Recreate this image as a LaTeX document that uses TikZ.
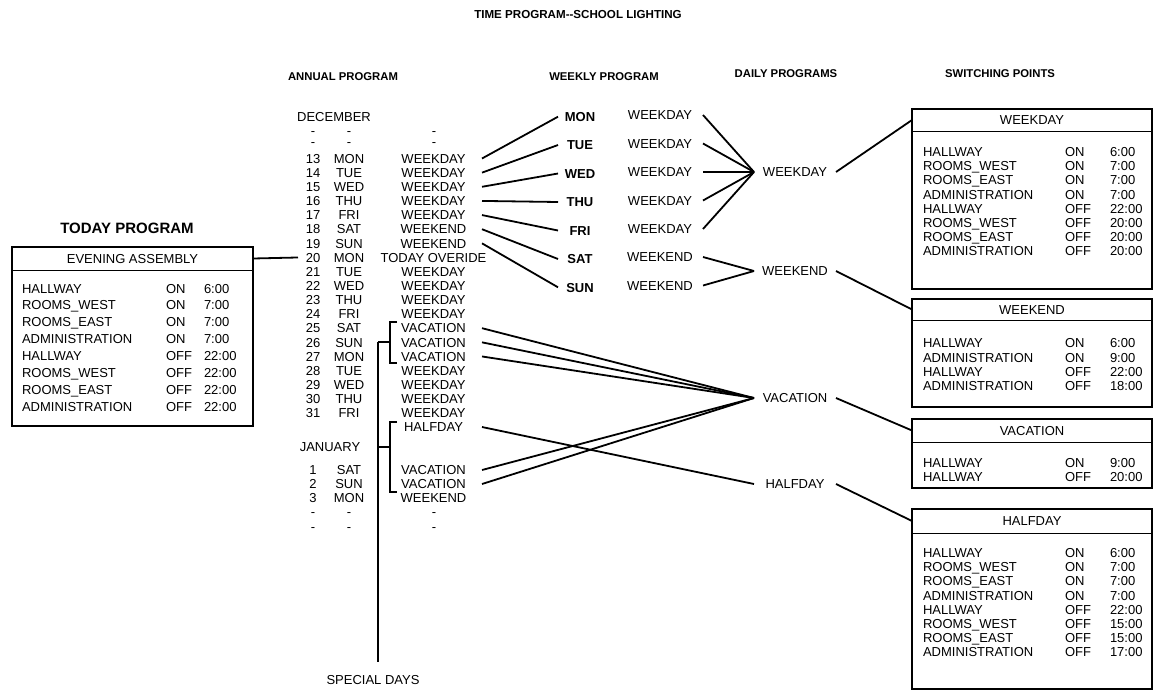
\documentclass[tikz,border=0pt]{standalone}
\usepackage{fontspec}
\setmainfont{Liberation Sans}
\begin{document}
\begin{tikzpicture}[x=1pt,y=-1pt,
  every node/.style={inner sep=0pt, outer sep=0pt, font=\fontsize{13}{14}\selectfont, text height=9.4pt, text depth=0pt},
  hdr/.style={font=\bfseries\fontsize{11.3}{13}\selectfont, text height=8.1pt},
  ttl/.style={font=\bfseries\fontsize{11.6}{13}\selectfont, text height=8.3pt},
  bigttl/.style={font=\bfseries\fontsize{15}{17}\selectfont, text height=10.8pt},
  dayb/.style={font=\bfseries\fontsize{13}{14}\selectfont, minimum width=44pt},
  numc/.style={minimum width=30pt},
  dayc/.style={minimum width=30pt},
  progc/.style={minimum width=97pt},
  wprog/.style={minimum width=86pt},
  daily/.style={minimum width=82pt},
  frame/.style={draw, line width=2.6pt, anchor=north west},
  hbox/.style={anchor=north west},
  sepline/.style={line width=0.9pt},
  conn/.style={line width=1.8pt},
  brk/.style={line width=1.4pt},
  row/.style={anchor=west},
]
\useasboundingbox (0,0) rectangle (1155,691);

% titles
\node[ttl] (title) at (578,14) {TIME PROGRAM{-}{-}SCHOOL LIGHTING};
\node[hdr] (hann) at (343,76) {ANNUAL PROGRAM};
\node[hdr] (hweek) at (604,76) {WEEKLY PROGRAM};
\node[hdr] (hdaily) at (786,73) {DAILY PROGRAMS};
\node[hdr] (hsw) at (1000,73) {SWITCHING POINTS};
\node[bigttl] (htoday) at (127,228) {TODAY PROGRAM};

% annual program
\node (dec) at (334,117) {DECEMBER};
\foreach \r/\y in {a/130.5, b/142, c/512, e/527} {
  \node[numc] (n\r) at (313,\y) {-};
  \node[dayc] (d\r) at (349,\y) {-};
  \node[progc] (p\r) at (434,\y) {-};
}
\foreach \n/\d/\p in {13/MON/WEEKDAY, 14/TUE/WEEKDAY, 15/WED/WEEKDAY, 16/THU/WEEKDAY,
  17/FRI/WEEKDAY, 18/SAT/WEEKEND, 19/SUN/WEEKEND, 20/MON/TODAY OVERIDE, 21/TUE/WEEKDAY,
  22/WED/WEEKDAY, 23/THU/WEEKDAY, 24/FRI/WEEKDAY, 25/SAT/VACATION, 26/SUN/VACATION,
  27/MON/VACATION, 28/TUE/WEEKDAY, 29/WED/WEEKDAY, 30/THU/WEEKDAY, 31/FRI/WEEKDAY} {
  \pgfmathsetmacro\yy{158.5+14.14*(\n-13)}
  \node[numc] (n\n) at (313,\yy) {\n};
  \node[dayc] (d\n) at (349,\yy) {\d};
  \node[progc] (p\n) at (433.5,\yy) {\p};
}
\node[progc] (phalf) at (433.5,427) {HALFDAY};
\node (jan) at (330,447) {JANUARY};
\foreach \n/\d/\p/\y in {1/SAT/VACATION/470, 2/SUN/VACATION/484, 3/MON/WEEKEND/498} {
  \node[numc] (nj\n) at (313,\y) {\n};
  \node[dayc] (dj\n) at (349,\y) {\d};
  \node[progc] (pj\n) at (433.5,\y) {\p};
}
\node (spec) at (373,680) {SPECIAL DAYS};

% special-day brackets
\coordinate (b1t) at (397,322); \coordinate (b1b) at (397,363);
\coordinate (b2t) at (397,422); \coordinate (b2b) at (397,492);
\coordinate (sdtop) at (378,342); \coordinate (sdmid) at (378,447); \coordinate (sdbot) at (378,662);
\draw[brk] (b1t) -- ++(-7,0) |- (b1b);
\draw[brk] (sdtop) -- ++(12,0);
\draw[brk] (b2t) -- ++(-7,0) |- (b2b);
\draw[brk] (sdmid) -- ++(12,0);
\draw[brk] (sdtop) -- (sdbot);

% weekly program
\foreach \d/\y [count=\i] in {MON/116.7, TUE/145, WED/173.5, THU/202, FRI/230.5, SAT/259, SUN/287.3}
  \node[dayb] (wd\i) at (580,\y) {\d};
\foreach \p/\y [count=\i] in {WEEKDAY/115, WEEKDAY/143.5, WEEKDAY/172, WEEKDAY/200.5, WEEKDAY/229, WEEKEND/257, WEEKEND/285.5}
  \node[wprog] (wp\i) at (660,\y) {\p};

% daily programs
\node[daily] (dwd) at (795,172) {WEEKDAY};
\node[daily] (dwe) at (795,271) {WEEKEND};
\node[daily] (dva) at (795,398) {VACATION};
\node[daily] (dha) at (795,484) {HALFDAY};

% today program box
\node[frame, minimum width=241pt, minimum height=179pt] (tbox) at (12,247) {};
\node[hbox, minimum width=241pt, minimum height=23pt] (thdr) at (12,247) {EVENING ASSEMBLY};
\draw[sepline] (thdr.south west) -- (thdr.south east);
\foreach \a/\b/\c [count=\i] in {HALLWAY/ON/6:00, ROOMS\_WEST/ON/7:00, ROOMS\_EAST/ON/7:00,
  ADMINISTRATION/ON/7:00, HALLWAY/OFF/22:00, ROOMS\_WEST/OFF/22:00, ROOMS\_EAST/OFF/22:00,
  ADMINISTRATION/OFF/22:00} {
  \pgfmathsetmacro\yy{288.3+16.9*(\i-1)}
  \node[row] (tra\i) at (22,\yy) {\a};
  \node[row] (trb\i) at (166,\yy) {\b};
  \node[row] (trc\i) at (204,\yy) {\c};
}

% switching points: WEEKDAY
\node[frame, minimum width=240pt, minimum height=180pt] (bwd) at (912,109) {};
\node[hbox, minimum width=240pt, minimum height=22pt] (hwd) at (912,109) {WEEKDAY};
\draw[sepline] (hwd.south west) -- (hwd.south east);
\foreach \a/\b/\c [count=\i] in {HALLWAY/ON/6:00, ROOMS\_WEST/ON/7:00, ROOMS\_EAST/ON/7:00,
  ADMINISTRATION/ON/7:00, HALLWAY/OFF/22:00, ROOMS\_WEST/OFF/20:00, ROOMS\_EAST/OFF/20:00,
  ADMINISTRATION/OFF/20:00} {
  \pgfmathsetmacro\yy{152+14.1*(\i-1)}
  \node[row] (wdra\i) at (923,\yy) {\a};
  \node[row] (wdrb\i) at (1065,\yy) {\b};
  \node[row] (wdrc\i) at (1110,\yy) {\c};
}

% WEEKEND
\node[frame, minimum width=240pt, minimum height=108pt] (bwe) at (912,299) {};
\node[hbox, minimum width=240pt, minimum height=21pt] (hwe) at (912,299) {WEEKEND};
\draw[sepline] (hwe.south west) -- (hwe.south east);
\foreach \a/\b/\c [count=\i] in {HALLWAY/ON/6:00, ADMINISTRATION/ON/9:00, HALLWAY/OFF/22:00,
  ADMINISTRATION/OFF/18:00} {
  \pgfmathsetmacro\yy{343+14.4*(\i-1)}
  \node[row] (wera\i) at (923,\yy) {\a};
  \node[row] (werb\i) at (1065,\yy) {\b};
  \node[row] (werc\i) at (1110,\yy) {\c};
}

% VACATION
\node[frame, minimum width=240pt, minimum height=69pt] (bva) at (912,419) {};
\node[hbox, minimum width=240pt, minimum height=23pt] (hva) at (912,419) {VACATION};
\draw[sepline] (hva.south west) -- (hva.south east);
\foreach \a/\b/\c [count=\i] in {HALLWAY/ON/9:00, HALLWAY/OFF/20:00} {
  \pgfmathsetmacro\yy{463+14.2*(\i-1)}
  \node[row] (vara\i) at (923,\yy) {\a};
  \node[row] (varb\i) at (1065,\yy) {\b};
  \node[row] (varc\i) at (1110,\yy) {\c};
}

% HALFDAY
\node[frame, minimum width=240pt, minimum height=180pt] (bha) at (912,509) {};
\node[hbox, minimum width=240pt, minimum height=24pt] (hha) at (912,509) {HALFDAY};
\draw[sepline] (hha.south west) -- (hha.south east);
\foreach \a/\b/\c [count=\i] in {HALLWAY/ON/6:00, ROOMS\_WEST/ON/7:00, ROOMS\_EAST/ON/7:00,
  ADMINISTRATION/ON/7:00, HALLWAY/OFF/22:00, ROOMS\_WEST/OFF/15:00, ROOMS\_EAST/OFF/15:00,
  ADMINISTRATION/OFF/17:00} {
  \pgfmathsetmacro\yy{553+14.1*(\i-1)}
  \node[row] (hara\i) at (923,\yy) {\a};
  \node[row] (harb\i) at (1065,\yy) {\b};
  \node[row] (harc\i) at (1110,\yy) {\c};
}

% connectors
\draw[conn] (thdr.east) -- (n20.west);
\draw[conn] (p13.east) -- (wd1.west);
\draw[conn] (p14.east) -- (wd2.west);
\draw[conn] (p15.east) -- (wd3.west);
\draw[conn] (p16.east) -- (wd4.west);
\draw[conn] (p17.east) -- (wd5.west);
\draw[conn] (p18.east) -- (wd6.west);
\draw[conn] (p19.east) -- (wd7.west);
\foreach \i in {1,...,5} \draw[conn] (wp\i.east) -- (dwd.west);
\draw[conn] (wp6.east) -- (dwe.west);
\draw[conn] (wp7.east) -- (dwe.west);
\foreach \s in {p25,p26,p27,pj1,pj2} \draw[conn] (\s.east) -- (dva.west);
\draw[conn] (phalf.east) -- (dha.west);
\draw[conn] (dwd.east) -- (hwd.west);
\draw[conn] (dwe.east) -- (hwe.west);
\draw[conn] (dva.east) -- (hva.west);
\draw[conn] (dha.east) -- (hha.west);
\end{tikzpicture}
\end{document}
